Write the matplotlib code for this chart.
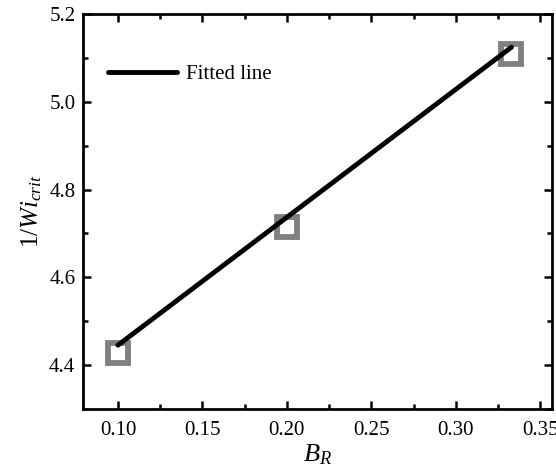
import matplotlib
matplotlib.use('Agg')
import matplotlib.pyplot as plt
import numpy as np
from matplotlib.ticker import MultipleLocator, FormatStrFormatter

# measured points
b_r = [0.10, 0.20, 0.333]
inv_wi = [4.427, 4.714, 5.109]

# fitted line coefficients: 1/Wi_crit = slope * B_R + intercept
fit_slope = 2.914
fit_intercept = 4.154

plt.rcParams['font.family'] = ['Liberation Serif', 'DejaVu Serif']
plt.rcParams['mathtext.fontset'] = 'custom'
plt.rcParams['mathtext.it'] = 'Liberation Serif:italic'
plt.rcParams['mathtext.rm'] = 'Liberation Serif'

fig = plt.figure(figsize=(5.56, 4.75), dpi=100)
ax = fig.add_axes([83 / 556, 1 - 409 / 475, (552 - 83) / 556, (409 - 14) / 475])

ax.plot(b_r, inv_wi, linestyle='none', marker='s', markersize=15,
        markerfacecolor='white', markeredgecolor='#808080', markeredgewidth=4.2,
        zorder=2)

xf = np.array([b_r[0], b_r[-1]])
ax.plot(xf, fit_slope * xf + fit_intercept, color='black', linewidth=3.5,
        solid_capstyle='round', label='Fitted line', zorder=3)

ax.set_xlim(0.0793, 0.357)
ax.set_ylim(4.3, 5.2)
ax.xaxis.set_major_locator(MultipleLocator(0.05))
ax.xaxis.set_minor_locator(MultipleLocator(0.025))
ax.yaxis.set_major_locator(MultipleLocator(0.2))
ax.yaxis.set_minor_locator(MultipleLocator(0.1))
ax.xaxis.set_major_formatter(FormatStrFormatter('%.2f'))
ax.yaxis.set_major_formatter(FormatStrFormatter('%.1f'))

ax.tick_params(which='both', direction='in', top=True, right=True, labelsize=15, width=1.8)
ax.tick_params(which='major', length=6)
ax.tick_params(which='minor', length=3.5)
ax.tick_params(axis='x', which='major', pad=8.5)
ax.tick_params(axis='y', which='major', pad=5.5)
for s in ax.spines.values():
    s.set_linewidth(2)

ax.set_xlabel('$B_R$', fontsize=19, labelpad=2)
ax.set_ylabel('$1/Wi_{crit}$', fontsize=18, labelpad=4)

ax.legend(loc='center left', frameon=False, fontsize=15, handlelength=3.3,
          handletextpad=0.45, borderpad=0, borderaxespad=0,
          bbox_to_anchor=(0.053, 0.848))

fig.savefig('out.png', dpi=100)
